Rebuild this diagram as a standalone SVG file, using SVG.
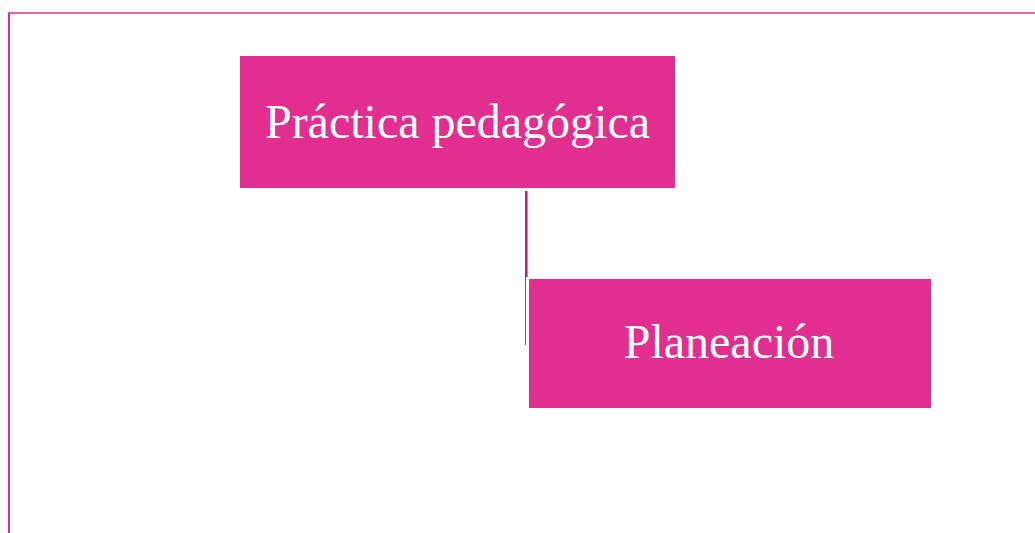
<svg xmlns="http://www.w3.org/2000/svg" width="1035" height="533" viewBox="0 0 1035 533">
<style>
.box{fill:#e22e90}
.lbl{font-family:"Liberation Serif","Times New Roman",serif;fill:#ffffff;text-anchor:middle}
</style>
<rect width="1035" height="533" fill="#ffffff"/>
<g id="frame">
<line x1="9" y1="13" x2="1035" y2="13" stroke="#e62d8e" stroke-width="1.6"/>
<line x1="9" y1="12.2" x2="9" y2="533" stroke="#e62d8e" stroke-width="2"/>
</g>
<g id="connectors">
<line x1="526.3" y1="191" x2="526.3" y2="277" stroke="#b5226f" stroke-width="2.5"/>
<line x1="525.6" y1="277" x2="525.6" y2="345" stroke="#c02478" stroke-width="1"/>
</g>
<g id="node-practica">
<rect class="box" x="240" y="56" width="435" height="132"/>
<text class="lbl" x="457.5" y="137.5" font-size="48">Práctica pedagógica</text>
</g>
<g id="node-planeacion">
<rect class="box" x="529" y="279" width="402" height="129"/>
<text class="lbl" x="729" y="358" font-size="48">Planeación</text>
</g>
</svg>
